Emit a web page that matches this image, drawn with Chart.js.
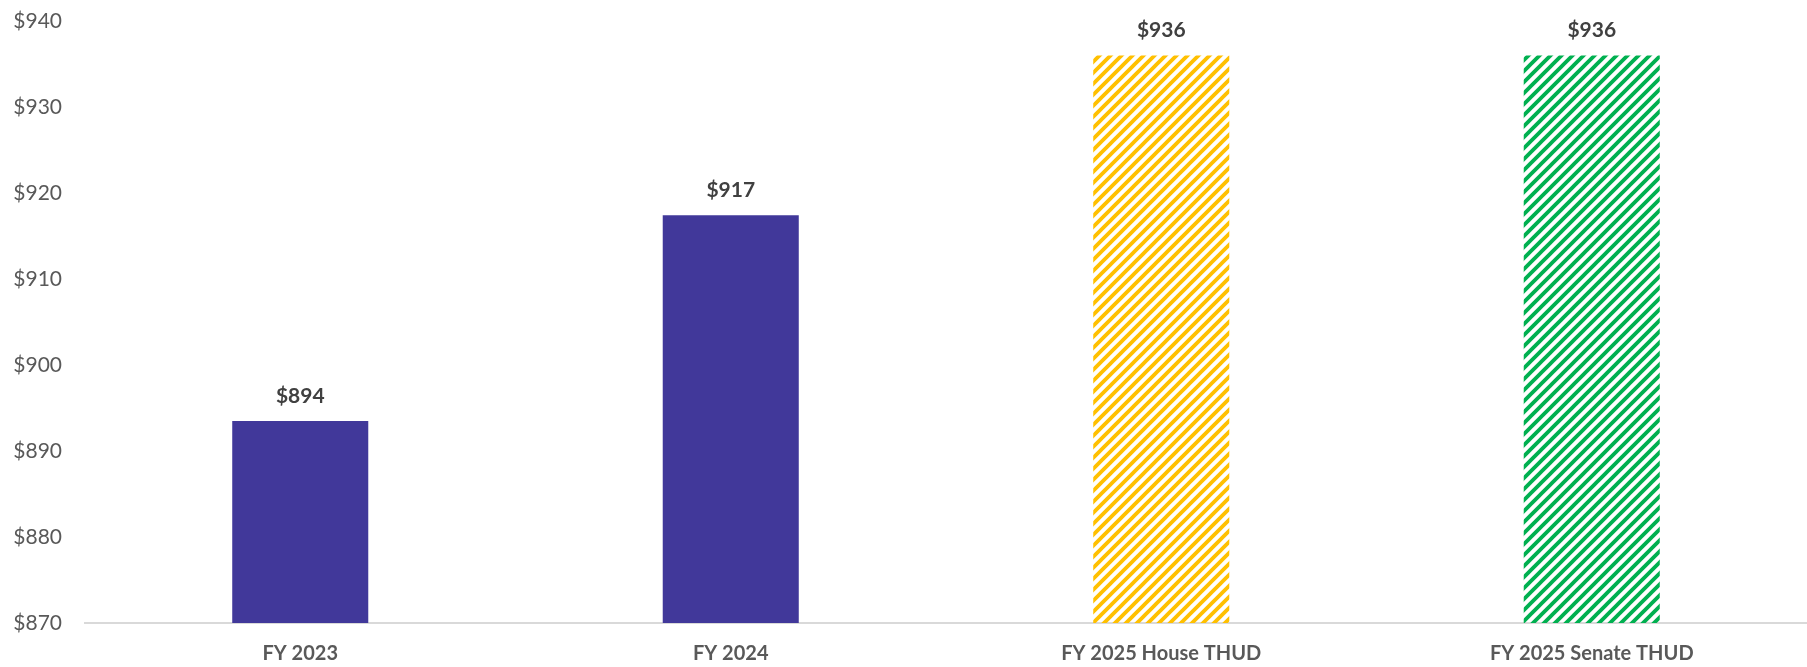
<!DOCTYPE html>
<html>
<head>
<meta charset="utf-8">
<script src="https://cdn.jsdelivr.net/npm/chart.js@4/dist/chart.umd.min.js"></script>
<style>
  html, body { margin: 0; padding: 0; background: #fff; }
  #wrap { width: 1807px; height: 667px; }
</style>
</head>
<body>
<div id="wrap"><canvas id="myChart" width="1807" height="667"></canvas></div>
<script>
var categories = ["FY 2023", "FY 2024", "FY 2025 House THUD", "FY 2025 Senate THUD"];
var values = [893.5, 917.4, 936, 936];
var labels = ["$894", "$917", "$936", "$936"];
var yMin = 870, yMax = 940, yStep = 10;

// diagonal stripe fill for the proposal bars
function stripes(color) {
  var s = 11;
  var c = document.createElement("canvas");
  c.width = s; c.height = s;
  var g = c.getContext("2d");
  g.strokeStyle = color;
  g.lineWidth = 3.8;
  g.beginPath();
  g.moveTo(-2, 2); g.lineTo(2, -2);
  g.moveTo(0, s); g.lineTo(s, 0);
  g.moveTo(s - 2, s + 2); g.lineTo(s + 2, s - 2);
  g.stroke();
  return g.createPattern(c, "repeat");
}

var ctx = document.getElementById("myChart").getContext("2d");
var fills = ["#41389a", "#41389a", stripes("#ffc000"), stripes("#00b050")];

var valueLabels = {
  id: "valueLabels",
  afterDatasetsDraw: function (chart) {
    var c = chart.ctx;
    var meta = chart.getDatasetMeta(0);
    c.save();
    c.font = "bold 21px Lato";
    c.fillStyle = "#404040";
    c.textAlign = "center";
    c.textBaseline = "middle";
    meta.data.forEach(function (bar, i) {
      c.fillText(labels[i], bar.x, bar.y - 25);
    });
    c.restore();
  }
};

new Chart(ctx, {
  type: "bar",
  data: {
    labels: categories,
    datasets: [{
      data: values,
      backgroundColor: fills,
      borderWidth: 0,
      categoryPercentage: 1,
      barPercentage: 0.316
    }]
  },
  options: {
    responsive: false,
    animation: false,
    layout: { padding: { top: 21, right: 0, left: 0, bottom: 0 } },
    plugins: { legend: { display: false }, tooltip: { enabled: false } },
    scales: {
      x: {
        grid: { display: false, drawTicks: false },
        border: { display: true, color: "#d9d9d9", width: 2 },
        ticks: { color: "#595959", font: { family: "Lato", size: 20, weight: "bold" }, padding: 19, maxRotation: 0 },
        afterFit: function (s) { s.height = 44; s.paddingTop = 0; }
      },
      y: {
        min: yMin,
        max: yMax,
        grid: { display: false, drawTicks: false },
        border: { display: false },
        ticks: {
          stepSize: yStep,
          color: "#595959",
          font: { family: "Lato", size: 21 },
          padding: 23,
          callback: function (v) { return "$" + v; }
        },
        afterFit: function (s) { s.width = 85; s.paddingTop = 0; s.paddingBottom = 0; }
      }
    }
  },
  plugins: [valueLabels]
});
</script>
</body>
</html>
